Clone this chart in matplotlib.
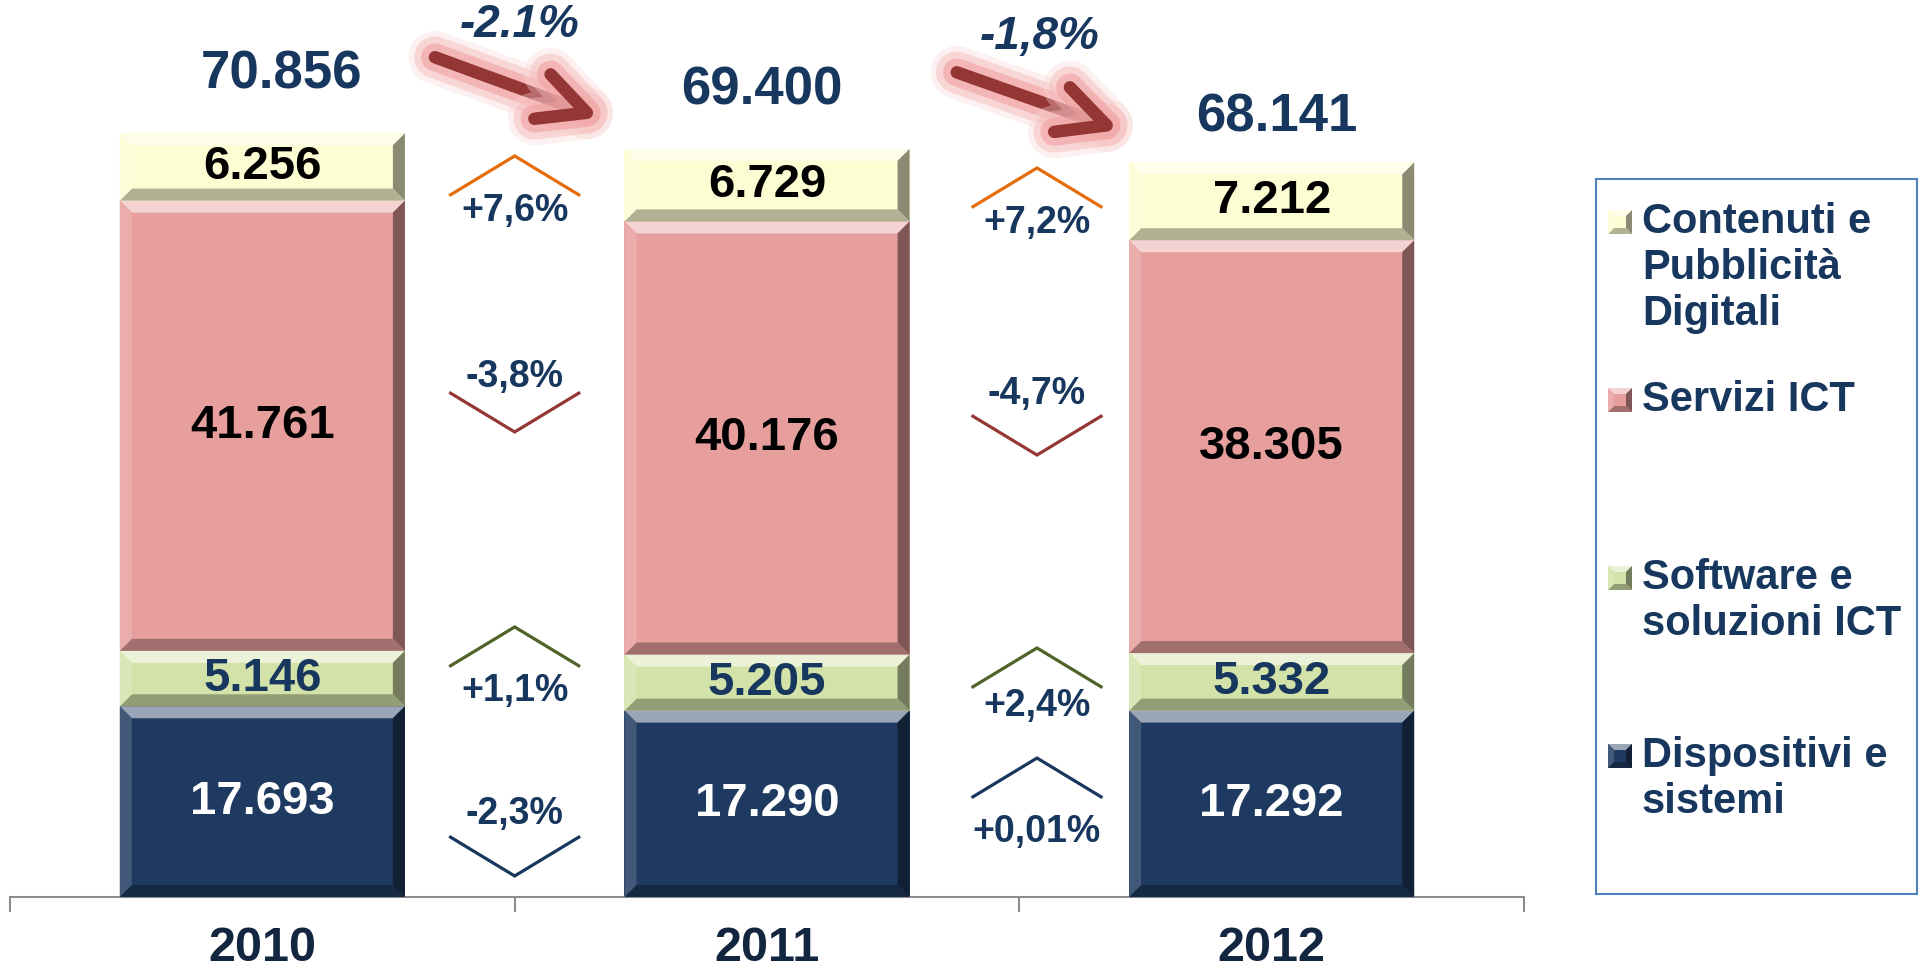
import numpy as np
from matplotlib import rcParams
from matplotlib import pyplot as plt
from matplotlib.patches import Polygon, FancyArrowPatch, Rectangle
from matplotlib import patheffects as pe
from matplotlib.colors import to_rgb

rcParams['font.family'] = ['Liberation Sans', 'DejaVu Sans']
rcParams['font.weight'] = 'bold'

years = ["2010", "2011", "2012"]
segments = ["Dispositivi e\nsistemi", "Software e\nsoluzioni ICT",
            "Servizi ICT", "Contenuti e\nPubblicità\nDigitali"]
dispositivi = [17693, 17290, 17292]
software = [5146, 5205, 5332]
servizi = [41761, 40176, 38305]
contenuti = [6256, 6729, 7212]
chg_2011 = ["-2,3%", "+1,1%", "-3,8%", "+7,6%"]
chg_2012 = ["+0,01%", "+2,4%", "-4,7%", "+7,2%"]
total_chg = ["-2.1%", "-1,8%"]

# stile
seg_colors = ["#1F3A60", "#D3E2A9", "#E69F9D", "#FDFDD3"]
lab_colors = ["white", "#17375E", "black", "black"]
chev_colors = ["#17375E", "#4F6228", "#953735", "#E46C0A"]
navy = "#17375E"

# layout (data y in migliaia, posizioni dei chevron fra le barre)
chev_x = [0.5, 1.535]
chev_apex = [[1.95, 25.05, 43.14, 68.74], [12.89, 23.10, 41.0, 67.63]]
chev_text = [[7.70, 19.11, 48.24, 63.64], [6.03, 17.72, 46.66, 62.52]]
arrow_xy = [((0.342, 77.9), (0.669, 72.3)), ((1.376, 76.5), (1.699, 71.15))]
arrow_txt = [(0.51, 80.9), (1.541, 79.8)]
tot_off = [(14, 42), (-4, 42), (4, 32)]


def mix(c, other, t):
    c = np.array(to_rgb(c))
    o = np.array(to_rgb(other))
    return tuple(c * (1 - t) + o * t)


def bevel(ax, x, y, w, h, color, bx, by):
    pts = {
        "top": [(x, y + h), (x + w, y + h), (x + w - bx, y + h - by), (x + bx, y + h - by)],
        "bottom": [(x, y), (x + w, y), (x + w - bx, y + by), (x + bx, y + by)],
        "left": [(x, y), (x + bx, y + by), (x + bx, y + h - by), (x, y + h)],
        "right": [(x + w, y), (x + w - bx, y + by), (x + w - bx, y + h - by), (x + w, y + h)],
    }
    shades = {"top": mix(color, "white", 0.55), "bottom": mix(color, "black", 0.3),
              "left": mix(color, "white", 0.15), "right": mix(color, "black", 0.45)}
    for k, p in pts.items():
        ax.add_patch(Polygon(p, closed=True, facecolor=shades[k], edgecolor="none", zorder=3))


def fmt(v):
    return f"{v:,}".replace(",", ".")


fig = plt.figure(figsize=(19.24, 9.76), dpi=100)
ax = fig.add_axes([10 / 1924, 79 / 976, 1514 / 1924, 83 * 10.78 / 976])
ax.set_xlim(-0.5, 2.5)
ax.set_ylim(0, 83000)

x = np.arange(len(years))
data = [dispositivi, software, servizi, contenuti]
bottom = np.zeros(len(years))
bx, by = 0.0238, 1113
for i, vals in enumerate(data):
    bars = ax.bar(x, vals, width=0.565, bottom=bottom, color=seg_colors[i], zorder=2)
    for r, v in zip(bars, vals):
        bevel(ax, r.get_x(), r.get_y(), r.get_width(), r.get_height(), seg_colors[i], bx, by)
        ax.text(r.get_x() + r.get_width() / 2, r.get_y() + r.get_height() / 2, fmt(v),
                ha="center", va="center", fontsize=34, color=lab_colors[i], zorder=4)
    bottom += np.array(vals)

for i, t in enumerate(bottom):
    ax.annotate(fmt(int(t)), (x[i], t), xytext=tot_off[i], textcoords="offset points",
                ha="center", va="center", fontsize=38, color=navy)

# chevron di variazione
hw, hh = 0.127, 3.6
for g, chg in enumerate([chg_2011, chg_2012]):
    cx = chev_x[g]
    for i, lab in enumerate(chg):
        ap = chev_apex[g][i] * 1000
        end = ap - hh * 1000 if lab.startswith("+") else ap + hh * 1000
        ax.plot([cx - hw, cx, cx + hw], [end, ap, end], color=chev_colors[i], lw=2.3,
                solid_joinstyle="miter", zorder=3)
        ax.text(cx, chev_text[g][i] * 1000, lab, ha="center", va="center",
                fontsize=27, color=navy)

# frecce della variazione totale
glow = [pe.Stroke(linewidth=38, foreground="#FAD6D6", alpha=0.35),
        pe.Stroke(linewidth=30, foreground="#F5B8B8", alpha=0.45),
        pe.Stroke(linewidth=20, foreground="#F0A0A0", alpha=0.6),
        pe.Normal()]
for (p0, p1), (tx, ty), lab in zip(arrow_xy, arrow_txt, total_chg):
    arr = FancyArrowPatch((p0[0], p0[1] * 1000), (p1[0], p1[1] * 1000),
                          arrowstyle="->,head_length=34,head_width=17",
                          mutation_scale=1, lw=9, color="#943634",
                          shrinkA=0, shrinkB=0, capstyle="round", joinstyle="round",
                          zorder=5)
    arr.set_path_effects(glow)
    ax.add_patch(arr)
    ax.text(tx, ty * 1000, lab, ha="center", va="center", fontsize=33,
            style="italic", color=navy, zorder=6)

for s in ["top", "left", "right"]:
    ax.spines[s].set_visible(False)
ax.spines["bottom"].set_color("#8C8C8C")
ax.spines["bottom"].set_linewidth(1.5)
ax.set_yticks([])
ax.set_xticks(x)
ax.set_xticklabels(years, fontsize=35, color="#132640")
ax.tick_params(axis="x", which="major", length=0, pad=21)
ax.set_xticks([-0.5, 0.5, 1.5, 2.5], minor=True)
ax.tick_params(axis="x", which="minor", length=11, width=1.5, color="#8C8C8C", direction="out")

# legenda
lg = fig.add_axes([1596 / 1924, 82 / 976, 321 / 1924, 715 / 976])
lg.set_xlim(0, 321)
lg.set_ylim(715, 0)
lg.set_xticks([])
lg.set_yticks([])
for s in lg.spines.values():
    s.set_color("#4F81BD")
    s.set_linewidth(1.5)
order = [3, 2, 1, 0]
for k, i in enumerate(order):
    yc = 43 + 178 * k
    lg.add_patch(Rectangle((12, yc - 12), 24, 24, facecolor=seg_colors[i], edgecolor="none"))
    bevel(lg, 12, yc + 12, 24, -24, seg_colors[i], 6, -6)
    for j, line in enumerate(segments[i].split("\n")):
        lg.text(46, yc + 46 * j, line, ha="left", va="center", fontsize=30, color=navy)

plt.savefig("out.png", dpi=100)
